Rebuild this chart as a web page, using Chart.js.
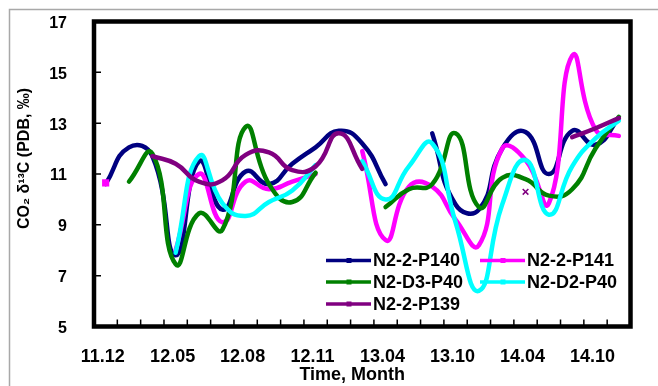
<!DOCTYPE html>
<html>
<head>
<meta charset="utf-8">
<script src="https://cdn.jsdelivr.net/npm/chart.js@4.4.1/dist/chart.umd.min.js"></script>
<style>
  html, body { margin: 0; padding: 0; background: #fff; }
</style>
</head>
<body>
<canvas id="myChart" width="658" height="386"></canvas>
<script>
/* categories (sampling dates), only every 3rd one is labelled */
const categories = ['11.12', '', '', '12.05', '', '', '12.08', '', '', '12.11', '', '',
                    '13.04', '', '', '13.10', '', '', '14.04', '', '', '14.10', ''];
const yMin = 5, yMax = 17, yStep = 2;

/* series values, null = no sample */
const p140 = [10.6, 12.05, 11.7, 7.8, 11.5, 9.6, 11.1, 10.6, 11.4, 12.05, 12.7, 12.2,
              10.6, null, 12.6, 9.8, 9.6, 12.0, 12.65, 11.0, 12.7, 12.15, 13.2];
const p141 = [10.65, null, null, 8.0, 11.0, 9.1, 10.7, 10.4, 10.7, 11.0, null, 11.9,
              8.4, 10.5, 10.5, 9.2, 8.2, 12.0, 11.55, 9.85, 15.65, 12.75, 12.5];
const d3p40 = [null, 10.7, 11.8, 7.45, 9.45, 8.8, 12.85, 10.6, 9.9, 11.05, null, null,
               9.7, 10.4, 10.6, 12.6, 9.7, 10.85, 10.8, 10.15, 10.4, 12.0, 13.25];
const d2p40 = [null, null, null, 7.9, 11.7, 9.85, 9.35, 9.9, 10.35, 11.35, null, 11.5,
               10.0, 11.3, 12.2, 9.1, 6.4, 9.8, 11.55, 9.4, 11.3, 12.4, 13.1];
const p139 = [null, null, 11.7, 11.4, 10.7, 10.75, 11.75, 11.85, 11.15, 11.3, 12.6, 11.2,
              null, null, null, null, null, null, 10.3, null, 12.45, 12.8, 13.2];

const seriesNames = ['N2-2-P140', 'N2-2-P141', 'N2-D3-P40', 'N2-D2-P40', 'N2-2-P139'];
const seriesData = [p140, p141, d3p40, d2p40, p139];
const colors = ['#000080', '#FF00FF', '#008000', '#00FFFF', '#800080'];
const markers = ['rectRot', 'rect', 'triangle', 'crossRot', 'crossRot'];

Chart.defaults.font.family = '"Liberation Sans", Arial, sans-serif';
Chart.defaults.color = '#000';

// show a marker only where a point has no neighbours (like excel does)
function isolated(ctx) {
  const d = ctx.dataset.data, i = ctx.dataIndex;
  return d[i] != null && d[i - 1] == null && d[i + 1] == null;
}

/* frame, inside ticks, outer border and legend */
const framePlugin = {
  id: 'frame',
  beforeDraw(chart) {
    const c = chart.ctx;
    c.save();
    c.strokeStyle = '#a8a8a8';
    c.lineWidth = 1.5;
    c.beginPath();
    c.moveTo(9.5, 386); c.lineTo(9.5, 9.5); c.lineTo(658, 9.5);
    c.stroke();
    c.restore();
  },
  afterDraw(chart) {
    const c = chart.ctx, a = chart.chartArea, y = chart.scales.y;
    c.save();
    c.strokeStyle = '#000';
    c.lineWidth = 1.5;
    c.beginPath();
    y.ticks.forEach(t => {
      const py = y.getPixelForValue(t.value);
      c.moveTo(a.left, py); c.lineTo(a.left + 7, py);
    });
    const n = categories.length;
    for (let k = 1; k < n; k++) {
      const px = a.left + k * (a.right - a.left) / n;
      c.moveTo(px, a.bottom); c.lineTo(px, a.bottom - 7);
    }
    c.stroke();
    c.lineWidth = 4.5;
    c.strokeRect(a.left, a.top, a.right - a.left, a.bottom - a.top);

    // legend, two columns inside the plot
    const slots = [[326, 260.5], [480, 260.5], [326, 282], [480, 282], [326, 304]];
    c.font = 'bold 18px "Liberation Sans", Arial, sans-serif';
    c.textBaseline = 'middle';
    seriesNames.forEach((name, i) => {
      const [lx, ly] = slots[i];
      c.strokeStyle = colors[i];
      c.lineWidth = 3.5;
      c.beginPath(); c.moveTo(lx, ly); c.lineTo(lx + 45, ly); c.stroke();
      c.fillStyle = colors[i];
      c.fillRect(lx + 20.5, ly - 2.5, 5, 5);
      c.fillStyle = '#000';
      c.fillText(name, lx + 47, ly + 1);
    });
    c.restore();
  }
};

const ctx = document.getElementById('myChart').getContext('2d');

const chart = new Chart(ctx, {
  type: 'line',
  data: {
    labels: categories,
    datasets: seriesData.map((d, i) => ({
      label: seriesNames[i],
      data: d,
      borderColor: colors[i],
      backgroundColor: colors[i],
      borderWidth: 4.5,
      borderCapStyle: 'round',
      borderJoinStyle: 'round',
      tension: 0.5,
      fill: false,
      spanGaps: false,
      pointStyle: markers[i],
      pointRadius: c => isolated(c) ? 4 : 0,
      pointBorderWidth: 1.5,
      order: seriesNames.length - i
    }))
  },
  options: {
    responsive: false,
    animation: false,
    devicePixelRatio: 1,
    layout: { padding: { top: 21.5, right: 27.5, bottom: 0, left: 0 } },
    plugins: { legend: { display: false }, tooltip: { enabled: false } },
    scales: {
      x: {
        type: 'category',
        offset: true,
        // ticks are drawn inside by the plugin; tickLength only spaces the labels
        grid: { display: false, drawTicks: true, tickLength: 18 },
        border: { display: false },
        ticks: {
          autoSkip: false, maxRotation: 0, minRotation: 0,
          padding: 2, labelOffset: -3,
          font: { size: 18, weight: 'bold' }, color: '#000'
        },
        title: {
          display: true, text: 'Time, Month    ',
          font: { size: 18, weight: 'bold' }, color: '#000',
          padding: { top: 0, bottom: 0 }
        },
        afterFit(s) { s.height = 59.5; }
      },
      y: {
        min: yMin, max: yMax,
        grid: { display: false, drawTicks: true, tickLength: 23 },
        border: { display: false },
        ticks: {
          stepSize: yStep, padding: 4, labelOffset: 2,
          font: { size: 16, weight: 'bold' }, color: '#000'
        },
        title: {
          display: true, text: '       CO\u2082 \u03B4\u00B9\u00B3C (PDB, \u2030)',
          font: { size: 16, weight: 'bold' }, color: '#000',
          padding: { top: 15, bottom: 0 }
        },
        afterFit(s) { s.width = 94; }
      }
    }
  },
  plugins: [framePlugin]
});
</script>
</body>
</html>
